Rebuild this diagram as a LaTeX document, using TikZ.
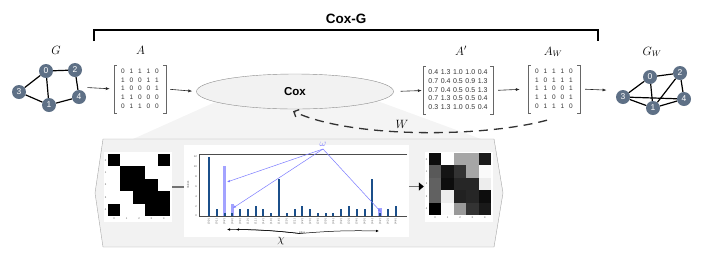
\documentclass[tikz,border=0pt]{standalone}
\usepackage{fontspec}
\setsansfont{Liberation Sans}
\usetikzlibrary{arrows.meta,positioning,shapes.geometric,fit,calc}
\definecolor{nodeslate}{HTML}{5E7086}
\definecolor{barnavy}{HTML}{1B4F8A}
\definecolor{hlpurple}{HTML}{A3A3FF}
\definecolor{wpurple}{HTML}{7C7CFF}
\definecolor{panelgray}{HTML}{F2F2F2}
\definecolor{wedgegray}{HTML}{F4F4F4}

\begin{document}
\begin{tikzpicture}[x=1pt,y=-1pt,
gnode/.style={circle,fill=nodeslate,text=white,inner sep=0pt,minimum size=14pt,
font=\sffamily\fontsize{8.5}{9}\selectfont},
gedge/.style={line width=1.2pt},
mat/.style={inner sep=0pt,minimum height=48pt,text=black!80,
font=\sffamily\fontsize{6.5}{8.7}\selectfont},
lbl/.style={inner sep=0pt,anchor=base,font=\fontsize{12}{13}\selectfont},
brk/.style={line width=0.6pt,draw=black!60},
arr/.style={-{Latex[length=4pt,width=3pt]},line width=0.6pt,draw=black!85,
shorten <=4pt,shorten >=4pt},
tick/.style={inner sep=0pt,text=black!70,font=\sffamily\fontsize{2.6}{3}\selectfont},
imgbox/.style={fill=white,inner sep=0pt,minimum width=68pt,minimum height=70pt},
warr/.style={-{Latex[length=3pt,width=2.5pt]},draw=wpurple,line width=0.5pt},
chiarr/.style={-{Latex[length=3pt,width=2.5pt]},line width=0.5pt}
]
\useasboundingbox (0,0) rectangle (706,269);

\fill[wedgegray] (133,139) -- (240,91) -- (350,91) -- (481,139) -- cycle;
\draw[draw=black!35,fill=panelgray] (103,139) -- (494,139) -- (503,193)
  -- (494,247) -- (103,247) -- (95,193) -- cycle;

\node[font=\sffamily\bfseries\fontsize{13.5}{14}\selectfont] (coxg) at (346,19) {Cox-G};
\draw[line width=1.8pt] (94,41) -- (94,30) -- (598,30) -- (598,41);

\node[gnode] (g0) at (46,71) {0};
\node[gnode] (g2) at (75,70) {2};
\node[gnode] (g3) at (19,92) {3};
\node[gnode] (g4) at (79,97) {4};
\node[gnode] (g1) at (49,105) {1};
\node[fit=(g0)(g1)(g2)(g3)(g4),inner sep=0pt] (gG) {};
\node[lbl] (labG) at (56,54) {$G$};
\draw[gedge] (g0) -- (g2);
\draw[gedge] (g0) -- (g3);
\draw[gedge] (g0) -- (g1);
\draw[gedge] (g2) -- (g4);
\draw[gedge] (g4) -- (g1);
\draw[gedge] (g3) -- (g1);

\node[mat,minimum width=52pt] (matA) at (140,89) {\setlength{\tabcolsep}{2.45pt}%
\begin{tabular}{@{}ccccc@{}}
0&1&1&1&0\\ 1&0&0&1&1\\ 1&0&0&0&1\\ 1&1&0&0&0\\ 0&1&1&0&0
\end{tabular}};
\node[lbl] (labA) at (140.5,54.5) {$A$};

\node[ellipse,draw=black!45,fill=panelgray,minimum width=197pt,minimum height=35pt,
inner sep=0pt,font=\sffamily\bfseries\fontsize{11.5}{12}\selectfont] (cox) at (295,91.5) {Cox};

\node[mat,minimum width=70pt,font=\sffamily\fontsize{7}{8.7}\selectfont] (matAp) at (458,90.5)
{\setlength{\tabcolsep}{1.3pt}%
\begin{tabular}{@{}ccccc@{}}
0.4&1.3&1.0&1.0&0.4\\ 0.7&0.4&0.5&0.9&1.3\\ 0.7&0.4&0.5&0.5&1.3\\
0.7&1.3&0.5&0.5&0.4\\ 0.3&1.3&1.0&0.5&0.4
\end{tabular}};
\node[lbl] (labAp) at (461,55) {$A'$};

\node[mat,minimum width=52pt] (matAW) at (554,89) {\setlength{\tabcolsep}{2.45pt}%
\begin{tabular}{@{}ccccc@{}}
0&1&1&1&0\\ 1&0&1&1&1\\ 1&1&0&0&1\\ 1&1&0&0&1\\ 0&1&1&1&0
\end{tabular}};
\node[lbl] (labAW) at (553,55) {$A_W$};

\foreach \m in {matA,matAp,matAW} {
  \draw[brk] ([xshift=3pt]\m.north west) -- (\m.north west) -- (\m.south west) -- ++(3pt,0);
  \draw[brk] ([xshift=-3pt]\m.north east) -- (\m.north east) -- (\m.south east) -- ++(-3pt,0);
}

\node[gnode] (w0) at (650,77) {0};
\node[gnode] (w2) at (680,73) {2};
\node[gnode] (w3) at (623,97) {3};
\node[gnode] (w4) at (684,99) {4};
\node[gnode] (w1) at (653,108) {1};
\node[fit=(w0)(w1)(w2)(w3)(w4),inner sep=0pt] (gW) {};
\node[lbl] (labGW) at (652,55) {$G_W$};
\draw[gedge] (w0) -- (w2);
\draw[gedge] (w0) -- (w3);
\draw[gedge] (w0) -- (w1);
\draw[gedge] (w2) -- (w1);
\draw[gedge] (w2) -- (w4);
\draw[gedge] (w3) -- (w4);
\draw[gedge] (w3) -- (w1);
\draw[gedge] (w1) -- (w4);

\draw[arr,shorten <=1pt] (gG.east) -- (matA.west);
\draw[arr] (matA.east) -- (cox.west);
\draw[arr,shorten <=7pt,shorten >=1pt] (cox.east) -- (matAp.west);
\draw[arr,shorten <=5pt,shorten >=8pt] (matAp.east) -- (matAW.west);
\draw[arr,shorten <=5pt,shorten >=9pt] (matAW.east) -- (gW.west);

\draw[-{Straight Barb[length=4pt,width=8pt]},line width=1.3pt,draw=black!80,
dash pattern=on 9pt off 6pt] ([shift={(-7,7)}]matAW.south)
  .. controls (480,138) and (350,138) .. ([shift={(-2,2)}]cox.south);
\node[lbl] (labW) at (402,128) {$W$};

\node[imgbox] (lmat) at (138,187) {};
\node[fill=white,inner sep=0pt,minimum width=225pt,minimum height=92pt] (chart) at (296.5,191) {};
\node[imgbox] (rmat) at (459,186.5) {};

\foreach \row [count=\r from 0] in {{100,0,0,0,100},{0,100,100,0,0},{0,100,100,100,0},
{0,0,100,100,100},{100,0,0,100,100}} {
  \foreach \v [count=\c from 0] in \row {
    \fill[black!\v] ({108+\c*12.4},{154+\r*12.4}) rectangle ++(12.4,12.4);
  }
}
\foreach \row [count=\r from 0] in {{95,0,35,35,90},{65,92,80,35,2},{62,95,85,85,7},
{62,7,87,85,95},{100,2,40,80,90}} {
  \foreach \v [count=\c from 0] in \row {
    \fill[black!\v] ({429+\c*12.4},{153+\r*12.4}) rectangle ++(12.4,12.4);
  }
}
\foreach \k in {0,...,4} {
  \node[tick] at (105.5,{154+(\k+0.5)*12.4}) {\k};
  \node[tick] at ({108+(\k+0.5)*12.4},219) {\k};
  \node[tick] at (426.5,{153+(\k+0.5)*12.4}) {\k};
  \node[tick] at ({429+(\k+0.5)*12.4},218) {\k};
}

\draw[line width=1.8pt,draw=black!55] (lmat.east) -- (chart.west |- lmat.east);
\draw[-{Triangle[length=5pt,width=8pt,color=black]},line width=1.8pt,draw=black!55,
shorten >=1pt] (chart.east |- rmat.west) -- (rmat.west);

\foreach \i/\v in {2/10.2,3/2.5,22/1.7}
  \fill[hlpurple] ({209+\i*7.78-1.8},216) rectangle ({209+\i*7.78+1.8},{216-\v*4.92});
\foreach \v [count=\i from 0] in {12,1.5,0.7,0.7,1.5,1.5,2,1.5,0.7,7.5,0.7,1.5,2,1.5,
0.7,0.7,0.7,1.5,2,1.5,1.5,7.5,0.7,1.5,2}
  \fill[barnavy] ({209+\i*7.78-1},216) rectangle ({209+\i*7.78+1},{216-\v*4.92});
\draw[line width=0.6pt,draw=black!70] (407,154) -- (199,154) -- (199,216) -- (407,216);
\foreach \t in {0,2,...,12}
  \node[tick,anchor=east] at (197,{216-\t*4.92}) {\t};
\node[tick,rotate=90] at (188,185) {Values};
\foreach \r in {0,...,4} {
  \foreach \c in {0,...,4} {
    \pgfmathtruncatemacro\k{\r*5+\c}
    \node[tick,rotate=90,anchor=east] at ({209+\k*7.78},218.5) {(\r,\c)};
  }
}
\node[tick] at (302,232.5) {Index};

\node[text=wpurple,inner sep=0pt,font=\fontsize{10}{10}\selectfont] (om) at (323,144) {$\omega$};
\coordinate (omtip) at (323,149);
\draw[warr] (omtip) -- (227,182);
\draw[warr] (omtip) -- (233,208);
\draw[warr] (omtip) -- (381,212);

\coordinate (chitip) at (300,233.5);
\draw[chiarr] (chitip) to[bend right=3] (227,229.5);
\draw[chiarr] (chitip) to[bend right=3] (236,229.5);
\draw[chiarr] (chitip) to[bend left=3] (379,231);
\node[inner sep=0pt,font=\fontsize{12}{13}\selectfont] (chi) at (281,241) {$\chi$};
\end{tikzpicture}
\end{document}
